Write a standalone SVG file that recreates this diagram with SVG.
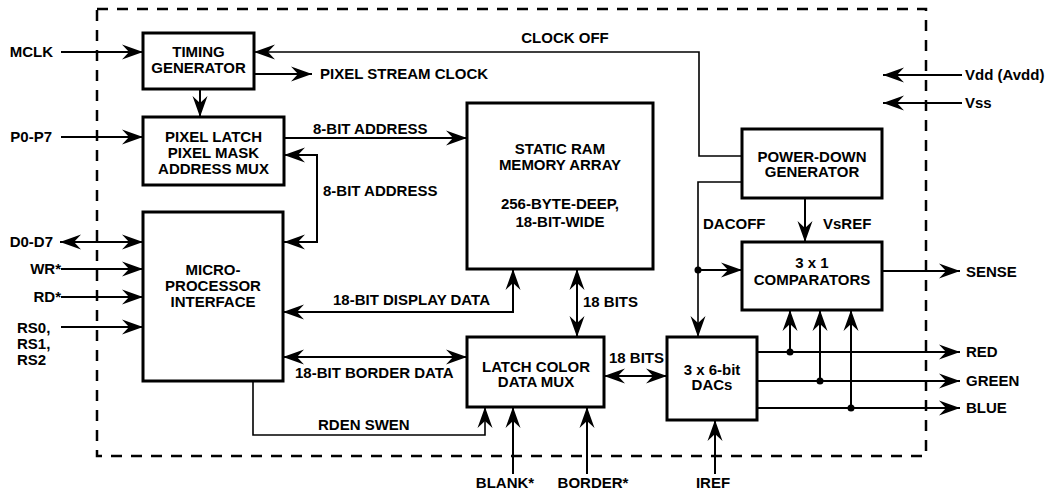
<svg xmlns="http://www.w3.org/2000/svg" width="1052" height="492" viewBox="0 0 1052 492">
<style>
text{font-family:"Liberation Sans",Arial,sans-serif;font-weight:bold;font-size:15px;fill:#000}
.c{text-anchor:middle}
.e{text-anchor:end}
.box{fill:#fff;stroke:#000;stroke-width:3}
.ln{fill:none;stroke:#000;stroke-width:2}
.thin{stroke-width:1.6}
.a{marker-end:url(#ah)}
.b{marker-start:url(#ah);marker-end:url(#ah)}
.dot{fill:#000}
</style>
<defs>
<marker id="ah" markerUnits="userSpaceOnUse" viewBox="-22 -9 23 18" refX="0" refY="0" markerWidth="23" markerHeight="18" orient="auto-start-reverse">
<path d="M0,0 L-21,-7.5 L-14,0 L-21,7.5 Z" fill="#000"/>
</marker>
</defs>
<rect x="97" y="9" width="829" height="447" fill="none" stroke="#000" stroke-width="2.5" stroke-dasharray="11 9"/>
<g id="connectors">
<path class="ln a" d="M61,52 H143"/>
<path class="ln thin a" d="M742,156 H699 V52 H254"/>
<path class="ln a" d="M254,74 H312"/>
<path class="ln a" d="M200,89 V117"/>
<path class="ln a" d="M61,137 H143"/>
<path class="ln a" d="M284,138 H467"/>
<path class="ln b" d="M284,242 H317 V155 H284"/>
<path class="ln b" d="M60,242 H143"/>
<path class="ln a" d="M61,269 H143"/>
<path class="ln a" d="M61,297 H143"/>
<path class="ln a" d="M61,327 H143"/>
<path class="ln b" d="M283,312 H513 V269"/>
<path class="ln b" d="M283,357 H467"/>
<path class="ln thin a" d="M253,381 V435 H485 V407"/>
<path class="ln b" d="M577,269 V337"/>
<path class="ln b" d="M604,376 H667"/>
<path class="ln a" d="M513,474 V407"/>
<path class="ln a" d="M587,474 V407"/>
<path class="ln a" d="M715,474 V420"/>
<path class="ln thin a" d="M742,182 H698 V337"/>
<path class="ln a" d="M698,270 H742"/>
<circle class="dot" cx="698" cy="270" r="3.5"/>
<path class="ln a" d="M805,198 V242"/>
<path class="ln a" d="M882,271 H960"/>
<path class="ln a" d="M757,352 H960"/>
<path class="ln a" d="M757,381 H960"/>
<path class="ln a" d="M757,408 H960"/>
<path class="ln a" d="M790,352 V310"/>
<path class="ln a" d="M820,381 V310"/>
<path class="ln a" d="M851,408 V310"/>
<circle class="dot" cx="790" cy="352" r="3.5"/>
<circle class="dot" cx="820" cy="381" r="3.5"/>
<circle class="dot" cx="851" cy="408" r="3.5"/>
<path class="ln a" d="M962,75 H883"/>
<path class="ln a" d="M962,103 H883"/>
</g>
<g id="labels">
<text class="e" x="53" y="57">MCLK</text>
<text class="e" x="52" y="142">P0-P7</text>
<text class="e" x="53" y="247">D0-D7</text>
<text class="e" x="61" y="274">WR*</text>
<text class="e" x="61" y="302">RD*</text>
<text x="17" y="333">RS0,</text>
<text x="17" y="349">RS1,</text>
<text x="17" y="365">RS2</text>
<text x="320" y="79">PIXEL STREAM CLOCK</text>
<text class="c" x="565" y="43">CLOCK OFF</text>
<text x="313" y="134">8-BIT ADDRESS</text>
<text x="323" y="196">8-BIT ADDRESS</text>
<text x="333" y="305">18-BIT DISPLAY DATA</text>
<text x="295" y="378">18-BIT BORDER DATA</text>
<text x="318" y="430">RDEN SWEN</text>
<text x="583" y="307">18 BITS</text>
<text x="609" y="363">18 BITS</text>
<text class="c" x="505" y="488">BLANK*</text>
<text class="c" x="593" y="488">BORDER*</text>
<text class="c" x="713" y="488">IREF</text>
<text x="703" y="229">DACOFF</text>
<text x="823" y="229">VsREF</text>
<text x="966" y="277">SENSE</text>
<text x="966" y="357">RED</text>
<text x="966" y="386">GREEN</text>
<text x="966" y="413">BLUE</text>
<text x="965" y="80">Vdd (Avdd)</text>
<text x="965" y="108">Vss</text>
</g>
<g id="timing">
<rect class="box" x="143" y="33" width="111" height="56"/>
<text class="c" x="198.5" y="57">TIMING</text>
<text class="c" x="198.5" y="73">GENERATOR</text>
</g>
<g id="pixel-latch">
<rect class="box" x="143" y="117" width="141" height="68"/>
<text class="c" x="213.5" y="142">PIXEL LATCH</text>
<text class="c" x="213.5" y="158">PIXEL MASK</text>
<text class="c" x="213.5" y="174">ADDRESS MUX</text>
</g>
<g id="mpi">
<rect class="box" x="143" y="212" width="140" height="169"/>
<text class="c" x="213" y="275">MICRO-</text>
<text class="c" x="213" y="291">PROCESSOR</text>
<text class="c" x="213" y="307">INTERFACE</text>
</g>
<g id="sram">
<rect class="box" x="467" y="103" width="186" height="166"/>
<text class="c" x="560" y="154">STATIC RAM</text>
<text class="c" x="560" y="170">MEMORY ARRAY</text>
<text class="c" x="560" y="209">256-BYTE-DEEP,</text>
<text class="c" x="560" y="227">18-BIT-WIDE</text>
</g>
<g id="latch">
<rect class="box" x="467" y="337" width="137" height="70"/>
<text class="c" x="536" y="372">LATCH COLOR</text>
<text class="c" x="536" y="387">DATA MUX</text>
</g>
<g id="dacs">
<rect class="box" x="667" y="337" width="90" height="83"/>
<text class="c" x="712" y="375">3 x 6-bit</text>
<text class="c" x="712" y="390">DACs</text>
</g>
<g id="powerdown">
<rect class="box" x="742" y="129" width="140" height="69"/>
<text class="c" x="812" y="162">POWER-DOWN</text>
<text class="c" x="812" y="177">GENERATOR</text>
</g>
<g id="comparators">
<rect class="box" x="742" y="242" width="140" height="68"/>
<text class="c" x="812" y="268">3 x 1</text>
<text class="c" x="812" y="285">COMPARATORS</text>
</g>
</svg>
